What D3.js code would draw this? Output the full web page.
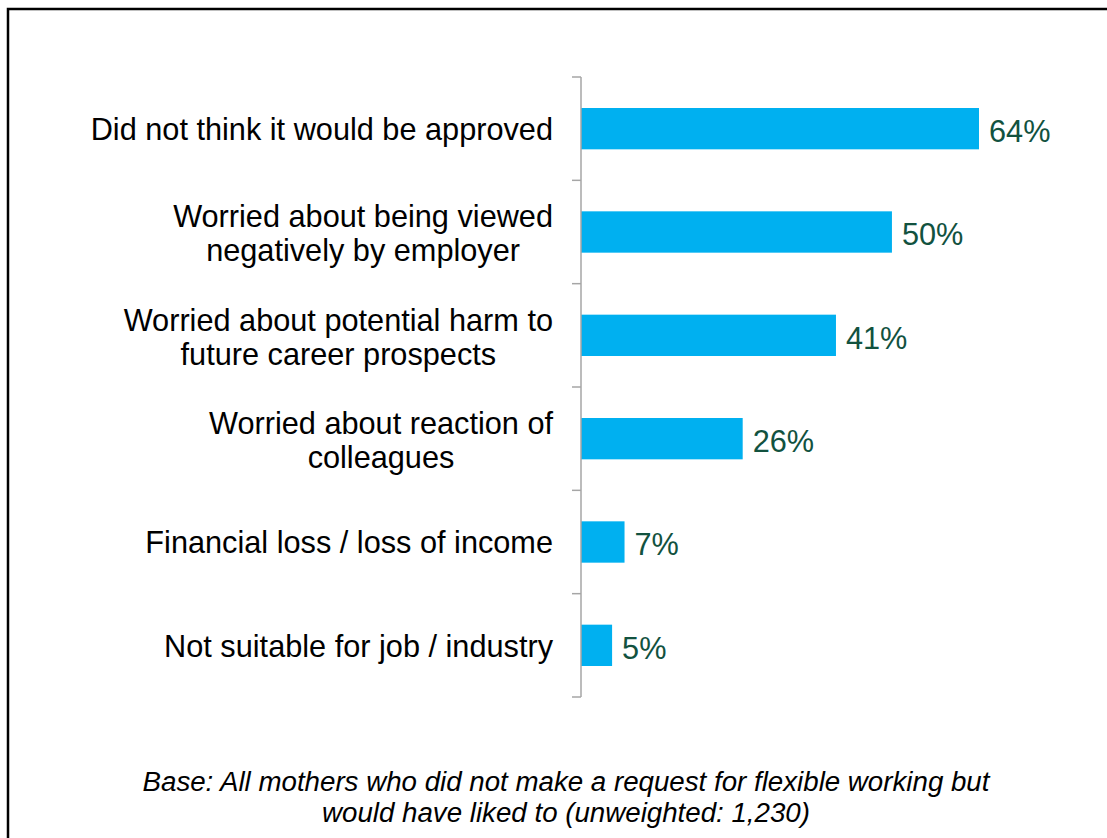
<!DOCTYPE html>
<html><head><meta charset="utf-8">
<script src="https://cdn.jsdelivr.net/npm/d3@7/dist/d3.min.js"></script>
<style>html,body{margin:0;padding:0;background:#fff;}svg{display:block;}</style>
</head><body>
<svg id="chart" width="1107" height="838"></svg>
<script>
const categories = [
  ["Did not think it would be approved"],
  ["Worried about being viewed", "negatively by employer"],
  ["Worried about potential harm to", "future career prospects"],
  ["Worried about reaction of", "colleagues"],
  ["Financial loss / loss of income"],
  ["Not suitable for job / industry"]
];
const values = [64, 50, 41, 26, 7, 5];
const valueLabels = ["64%", "50%", "41%", "26%", "7%", "5%"];
const footnote = ["Base: All mothers who did not make a request for flexible working but",
                  "would have liked to (unweighted: 1,230)"];

const svg = d3.select("#chart");
const font = "Liberation Sans, Arial, sans-serif";

// frame
svg.append("rect").attr("x", 8).attr("y", 9).attr("width", 1120).attr("height", 850)
  .attr("fill", "none").attr("stroke", "#000").attr("stroke-width", 2.5);

const x0 = 581, yTop = 77, yBot = 697;
const idx = d3.range(categories.length);
const y = d3.scaleBand().domain(idx).range([yTop, yBot]).paddingInner(0.6).paddingOuter(0.3);
const x = d3.scaleLinear().domain([0, 64]).range([x0, 979]);

// bars
svg.selectAll("rect.bar").data(values).enter().append("rect").attr("class", "bar")
  .attr("x", x(0)).attr("y", (d, i) => y(i)).attr("width", d => x(d) - x(0))
  .attr("height", y.bandwidth()).attr("fill", "#00B0F0");

// axis line and ticks at band boundaries
const ax = svg.append("g").attr("stroke", "#A6A6A6").attr("stroke-width", 1.5);
ax.append("line").attr("x1", x0).attr("x2", x0).attr("y1", yTop).attr("y2", yBot);
const step = y.step();
d3.range(categories.length + 1).forEach(k => {
  const yy = yTop + k * step;
  ax.append("line").attr("x1", x0 - 9).attr("x2", x0).attr("y1", yy).attr("y2", yy);
});

// category labels (multi-line blocks are right-aligned, lines centred within block)
const fs = 30.7, lh = 34, labelRight = 553;
categories.forEach((lines, i) => {
  const cy = y(i) + y.bandwidth() / 2 + (lines.length > 1 ? 1.5 : 0.5);
  const t = svg.append("text").attr("text-anchor", "middle").attr("font-family", font)
    .attr("font-size", fs).attr("fill", "#000");
  const spans = lines.map((ln, j) => t.append("tspan")
    .attr("y", cy + (j - (lines.length - 1) / 2) * lh)
    .attr("dy", "0.35em").text(ln));
  const maxW = d3.max(spans, s => s.node().getComputedTextLength());
  spans.forEach(s => s.attr("x", labelRight - maxW / 2));
});

// value labels
svg.selectAll("text.val").data(values).enter().append("text").attr("class", "val")
  .attr("x", d => x(d) + 10).attr("y", (d, i) => y(i) + y.bandwidth() / 2 + 2.5)
  .attr("dy", "0.35em").attr("font-family", font).attr("font-size", fs)
  .attr("fill", "#12523F").text((d, i) => valueLabels[i]);

// footnote
footnote.forEach((ln, j) => {
  svg.append("text").attr("x", 566).attr("y", 790.5 + j * 31.5).attr("text-anchor", "middle")
    .attr("font-family", font).attr("font-size", 27.7).attr("font-style", "italic")
    .attr("fill", "#000").text(ln);
});
</script>
</body></html>
